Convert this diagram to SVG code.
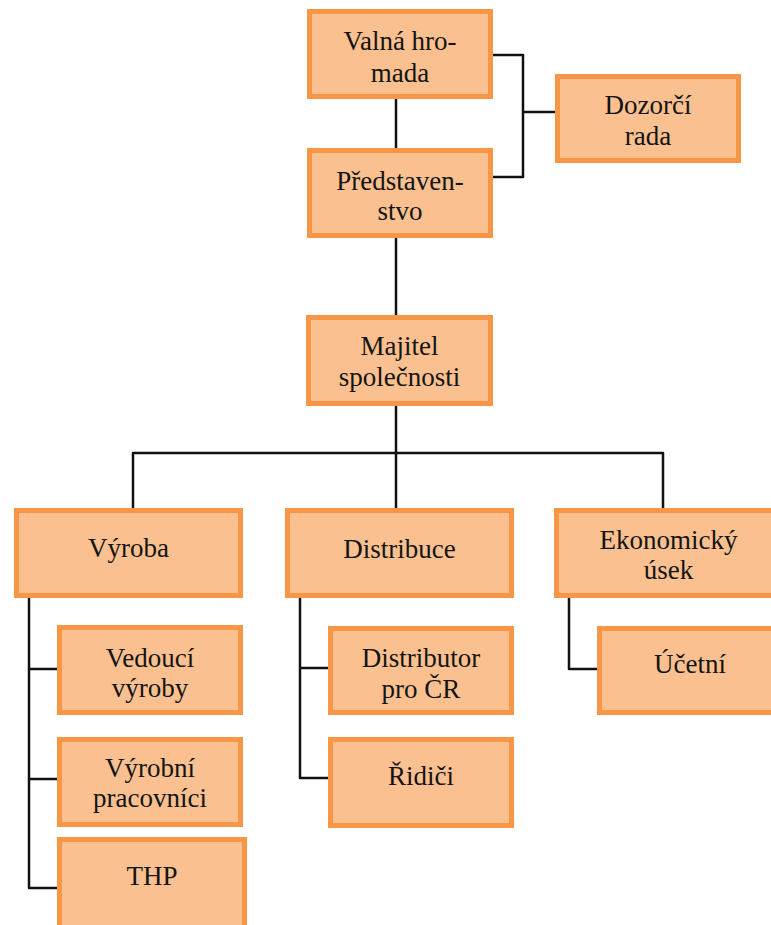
<svg xmlns="http://www.w3.org/2000/svg" width="771" height="925" viewBox="0 0 771 925">
<style>
.box{fill:#FAC08F;stroke:#F79646;stroke-width:5}
.t{font-family:'Liberation Serif','Times New Roman',serif;font-size:27px;fill:#141414;text-anchor:middle}
.c{fill:none;stroke:#111;stroke-width:2.5;stroke-linejoin:round}
</style>
<rect width="771" height="925" fill="#fff"/>
<g id="connectors">
<polyline class="c" points="493,55 523,55 523,177 493,177"/>
<line class="c" x1="523" y1="112" x2="555" y2="112"/>
<line class="c" x1="396" y1="99" x2="396" y2="148"/>
<line class="c" x1="396" y1="238" x2="396" y2="315"/>
<line class="c" x1="396" y1="406" x2="396" y2="508"/>
<polyline class="c" points="133,508 133,453 663,453 663,508"/>
<polyline class="c" points="29,598 29,888 57,888"/>
<line class="c" x1="29" y1="669" x2="57" y2="669"/>
<line class="c" x1="29" y1="779" x2="57" y2="779"/>
<polyline class="c" points="300,598 300,778 328,778"/>
<line class="c" x1="300" y1="668" x2="328" y2="668"/>
<polyline class="c" points="569,598 569,669 597,669"/>
</g>
<g id="valna"><rect class="box" x="309.5" y="11.5" width="181" height="85"/><text class="t" x="400" y="50">Valná hro-</text><text class="t" x="400" y="82">mada</text></g>
<g id="dozorci"><rect class="box" x="557.5" y="76.5" width="181" height="84"/><text class="t" x="648" y="114">Dozorčí</text><text class="t" x="648" y="145">rada</text></g>
<g id="predstavenstvo"><rect class="box" x="309.5" y="150.5" width="181" height="85"/><text class="t" x="400" y="190">Představen-</text><text class="t" x="400" y="220">stvo</text></g>
<g id="majitel"><rect class="box" x="308.5" y="317.5" width="182" height="86"/><text class="t" x="399.5" y="355">Majitel</text><text class="t" x="399.5" y="386">společnosti</text></g>
<g id="vyroba"><rect class="box" x="16.5" y="510.5" width="224" height="85"/><text class="t" x="128.5" y="557">Výroba</text></g>
<g id="distribuce"><rect class="box" x="287.5" y="510.5" width="224" height="85"/><text class="t" x="399.5" y="558">Distribuce</text></g>
<g id="ekonomicky"><rect class="box" x="556.5" y="510.5" width="224" height="85"/><text class="t" x="668.5" y="549">Ekonomický</text><text class="t" x="668.5" y="579">úsek</text></g>
<g id="vedouci"><rect class="box" x="59.5" y="627.5" width="181" height="85"/><text class="t" x="150" y="667">Vedoucí</text><text class="t" x="150" y="697">výroby</text></g>
<g id="vyrobni"><rect class="box" x="59.5" y="739.5" width="181" height="85"/><text class="t" x="150" y="777">Výrobní</text><text class="t" x="150" y="807">pracovníci</text></g>
<g id="thp"><rect class="box" x="59.5" y="839.5" width="185" height="95"/><text class="t" x="152" y="885">THP</text></g>
<g id="distributor"><rect class="box" x="330.5" y="628.5" width="181" height="84"/><text class="t" x="421" y="667">Distributor</text><text class="t" x="421" y="698">pro ČR</text></g>
<g id="ridici"><rect class="box" x="330.5" y="739.5" width="181" height="86"/><text class="t" x="421" y="785">Řidiči</text></g>
<g id="ucetni"><rect class="box" x="599.5" y="628.5" width="182" height="84"/><text class="t" x="690" y="673">Účetní</text></g>
</svg>
